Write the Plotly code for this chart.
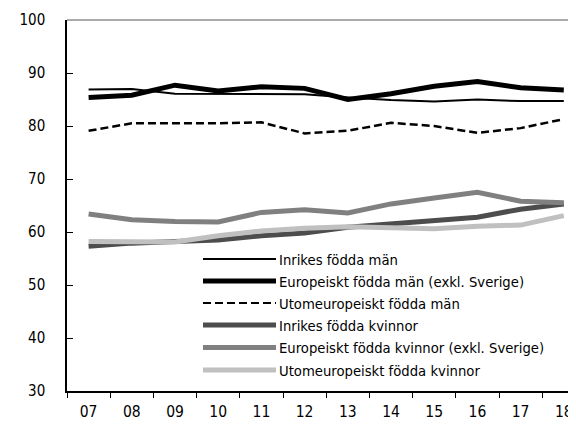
import plotly.graph_objects as go

years = ["07", "08", "09", "10", "11", "12", "13", "14", "15", "16", "17", "18"]
y_ticks = [30, 40, 50, 60, 70, 80, 90, 100]

series_names = [
    "Inrikes födda män",
    "Europeiskt födda män (exkl. Sverige)",
    "Utomeuropeiskt födda män",
    "Inrikes födda kvinnor",
    "Europeiskt födda kvinnor (exkl. Sverige)",
    "Utomeuropeiskt födda kvinnor",
]

inrikes_man = [86.9, 87.0, 86.1, 86.1, 86.1, 86.0, 85.4, 84.9, 84.6, 85.0, 84.7, 84.7]
europ_man = [85.4, 85.8, 87.7, 86.6, 87.4, 87.1, 85.0, 86.1, 87.5, 88.4, 87.2, 86.8]
utom_man = [79.1, 80.5, 80.5, 80.5, 80.7, 78.6, 79.1, 80.6, 80.0, 78.7, 79.6, 81.3]
inrikes_kv = [57.3, 57.9, 58.2, 58.5, 59.3, 59.8, 60.9, 61.5, 62.2, 62.8, 64.3, 65.3]
europ_kv = [63.4, 62.3, 62.0, 61.9, 63.7, 64.2, 63.6, 65.3, 66.4, 67.5, 65.8, 65.5]
utom_kv = [58.2, 58.1, 58.1, 59.3, 60.2, 60.7, 61.0, 60.8, 60.6, 61.1, 61.3, 63.1]

values = [inrikes_man, europ_man, utom_man, inrikes_kv, europ_kv, utom_kv]
colors = ["#000000", "#000000", "#000000", "#4d4d4d", "#808080", "#c0c0c0"]
widths = [2, 5, 2.5, 5, 5, 5]
dashes = ["solid", "solid", "8px,4px", "solid", "solid", "solid"]
legend_widths = [2, 5, 2, 5, 5, 5]

FONT = "DejaVu Sans Condensed, Liberation Sans Narrow, Arial Narrow, sans-serif"

# page body has an 8px margin: lay the figure out so it fits the 576x425 window
OFF = 8
W, H = 576 - OFF, 425 - OFF
ML, MR, MT, MB = 67 - OFF, 0, 20 - OFF, H - (391 - OFF)
PW, PH = W - ML - MR, H - MT - MB

fig = go.Figure()
for name, v, c, w, d in zip(series_names, values, colors, widths, dashes):
    fig.add_trace(go.Scatter(
        x=years, y=v, mode="lines", name=name,
        line=dict(color=c, width=w, dash=d),
        showlegend=False, hoverinfo="x+y+name",
    ))

span = PW / 43.2
xrange = [-0.5, -0.5 + span]

# manual legend (window pixel positions)
leg_x0, leg_x1, leg_tx = 203, 276, 277
leg_rows = [259, 281, 303, 325, 347.5, 370]
shapes = []
annotations = []
for name, c, w, d, py in zip(series_names, colors, legend_widths, dashes, leg_rows):
    yy = (H - MB - (py - OFF)) / PH
    shapes.append(dict(type="line", xref="paper", yref="paper",
                       x0=(leg_x0 - OFF - ML) / PW, x1=(leg_x1 - OFF - ML) / PW, y0=yy, y1=yy,
                       line=dict(color=c, width=w, dash=d)))
    annotations.append(dict(text=name, xref="paper", yref="paper",
                            x=(leg_tx - OFF - ML) / PW, y=yy, xanchor="left", yanchor="middle",
                            showarrow=False, font=dict(family=FONT, size=14.7, color="#000")))

# top border
shapes.append(dict(type="line", xref="paper", yref="paper", x0=0, x1=1, y0=1, y1=1,
                   line=dict(color="#555555", width=1)))

fig.update_layout(
    width=W, height=H,
    margin=dict(l=ML, r=MR, t=MT, b=MB, pad=0),
    paper_bgcolor="white", plot_bgcolor="white",
    font=dict(family=FONT, size=14, color="#000"),
    showlegend=False,
    shapes=shapes, annotations=annotations,
    xaxis=dict(
        type="category", categoryorder="array", categoryarray=years,
        range=xrange, tickson="boundaries", ticks="outside", ticklen=5,
        tickwidth=1, tickcolor="#000", showgrid=False, zeroline=False,
        showline=True, linecolor="#000", linewidth=1.5, automargin=False,
        tickfont=dict(family=FONT, size=15.5), ticklabelstandoff=6,
    ),
    xaxis2=dict(
        overlaying="x", anchor="y", side="bottom",
        range=xrange, tickmode="array",
        tickvals=[i + 0.5 for i in range(len(years))],
        ticktext=["" for _ in years],
        ticks="inside", ticklen=5, tickwidth=1, tickcolor="#000",
        showgrid=False, zeroline=False, showline=False, automargin=False,
    ),
    yaxis=dict(
        range=[30, 100], tickmode="array", tickvals=y_ticks,
        ticktext=[str(t) for t in y_ticks],
        ticks="inside", ticklen=6, tickwidth=1, tickcolor="#000",
        showgrid=False, zeroline=False, automargin=False,
        showline=True, linecolor="#000", linewidth=1.5,
        tickfont=dict(family=FONT, size=15), ticklabelstandoff=17,
    ),
)

fig.write_html("out.html")
